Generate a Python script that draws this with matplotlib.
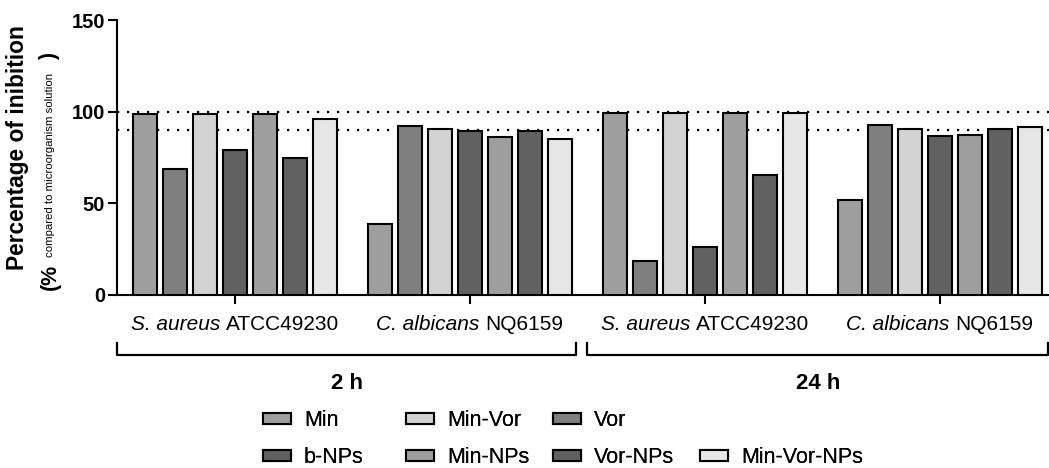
import numpy as np
import matplotlib.pyplot as plt
from matplotlib.patches import Patch
from matplotlib.transforms import blended_transform_factory

plt.rcParams['font.family'] = ['Liberation Sans', 'DejaVu Sans']

# Data (percentage of inhibition)
treatments = ['Min', 'Vor', 'Min-Vor', 'b-NPs', 'Min-NPs', 'Vor-NPs', 'Min-Vor-NPs']
colors = ['#9e9e9e', '#7f7f7f', '#d3d3d3', '#616161', '#9e9e9e', '#616161', '#e6e6e6']
species = ['S. aureus', 'C. albicans', 'S. aureus', 'C. albicans']
strains = ['ATCC49230', 'NQ6159', 'ATCC49230', 'NQ6159']
times = ['2 h', '24 h']

sa_2h = [98.5, 69, 98.5, 79, 98.5, 75, 96]
ca_2h = [39, 92.3, 90.3, 89.5, 86.3, 89.3, 85.3]
sa_24h = [99.5, 18.5, 99.5, 26.3, 99.5, 65.3, 99.5]
ca_24h = [51.8, 93, 90.8, 86.5, 87.5, 90.3, 91.6]
groups = [sa_2h, ca_2h, sa_24h, ca_24h]

fig = plt.figure(figsize=(10.49, 4.68), dpi=100)
W, H = 1049, 468
ax = fig.add_axes([117 / W, 1 - 295 / H, (1049 - 117) / W, 275 / H])

pitch = 235 / 30  # distance between group centres, in bar units
centers = np.arange(len(groups)) * pitch
offsets = np.arange(len(treatments)) - 3

for i, t in enumerate(treatments):
    vals = [g[i] for g in groups]
    ax.bar(centers + offsets[i], vals, width=0.8, color=colors[i],
           edgecolor='black', linewidth=1.5, label=t, zorder=3)

for lvl in (100, 90):
    ax.axhline(lvl, color='black', linewidth=1.6, linestyle=(0, (1, 3.5)), zorder=1)

ax.set_ylim(0, 150)
ax.set_yticks([0, 50, 100, 150])
ax.set_xlim(-3.93, centers[-1] + 3 + (1049 - 940 - 90) / 30)
ax.set_xticks(centers)
ax.set_xticklabels([])
for lab in ax.get_yticklabels():
    lab.set_fontweight('bold')
    lab.set_fontsize(14.5)
ax.tick_params(axis='both', direction='out', length=6.5, width=1.5)
ax.tick_params(axis='y', pad=2)
for s in ('top', 'right'):
    ax.spines[s].set_visible(False)
for s in ('left', 'bottom'):
    ax.spines[s].set_linewidth(1.5)

tr = blended_transform_factory(ax.transData, ax.transAxes)
renderer = fig.canvas.get_renderer()

# group labels: italic species + roman strain, centred on the tick
space_px = 0.278 * 15 * 100 / 72
for c, sp, st in zip(centers, species, strains):
    t1 = ax.text(c, -0.127, sp, style='italic', fontsize=15, transform=tr,
                 ha='left', va='baseline')
    t2 = ax.text(c, -0.127, st, fontsize=15, transform=tr,
                 ha='left', va='baseline')
    w1 = t1.get_window_extent(renderer).width
    w2 = t2.get_window_extent(renderer).width
    cpx = ax.transData.transform((c, 0))[0]
    left = cpx - (w1 + space_px + w2) / 2
    inv = ax.transData.inverted()
    t1.set_x(inv.transform((left, 0))[0])
    t2.set_x(inv.transform((left + w1 + space_px, 0))[0])

# time brackets under the groups
xl = ax.get_xlim()
mid = (centers[1] + centers[2]) / 2
spans = [(xl[0], mid - 0.37), (mid, xl[1] - 0.03)]
for (a, b), lab in zip(spans, times):
    ax.plot([a, a, b, b], [-0.174, -0.218, -0.218, -0.174], color='black',
            linewidth=1.6, transform=tr, clip_on=False)
    ax.text((a + b) / 2, -0.322, lab, transform=tr, ha='center', va='center',
            fontsize=16, fontweight='bold')

# y label (two lines, second with small subscript)
fig.text(18 / W, 1 - 148 / H, 'Percentage of inibition', rotation=90,
         ha='center', va='center', fontsize=16.4, fontweight='bold')
fig.text(50 / W, 1 - 290 / H, '(%', rotation=90, ha='center', va='bottom',
         fontsize=15.5, fontweight='bold')
fig.text(50 / W, 1 - 257 / H, 'compared to microorganism solution', rotation=90,
         ha='center', va='bottom', fontsize=8.2)
fig.text(50 / W, 1 - 60 / H, ')', rotation=90, ha='center', va='bottom',
         fontsize=15.5, fontweight='bold')

# legend: Min / Min-Vor / Vor on first row, NPs on second row
hs = {t: Patch(facecolor=c, edgecolor='black', linewidth=1.5)
      for t, c in zip(treatments, colors)}
blank = Patch(facecolor='none', edgecolor='none')
legend_cols = [['Min', 'b-NPs'], ['Min-Vor', 'Min-NPs'], ['Vor', 'Vor-NPs'],
               [None, 'Min-Vor-NPs']]
col_x = [263, 406, 553, 700]
for names, x in zip(legend_cols, col_x):
    handles = [hs[n] if n else blank for n in names]
    labels = [n if n else '' for n in names]
    leg = fig.legend(handles, labels, ncol=1, loc='upper left',
                     bbox_to_anchor=(x / W, 1 - 410 / H), frameon=False, fontsize=15.5,
                     handlelength=1.3, handleheight=0.42, handletextpad=0.6,
                     labelspacing=0.74, borderpad=0, borderaxespad=0)
    fig.add_artist(leg)

fig.savefig('out.png', dpi=100)
